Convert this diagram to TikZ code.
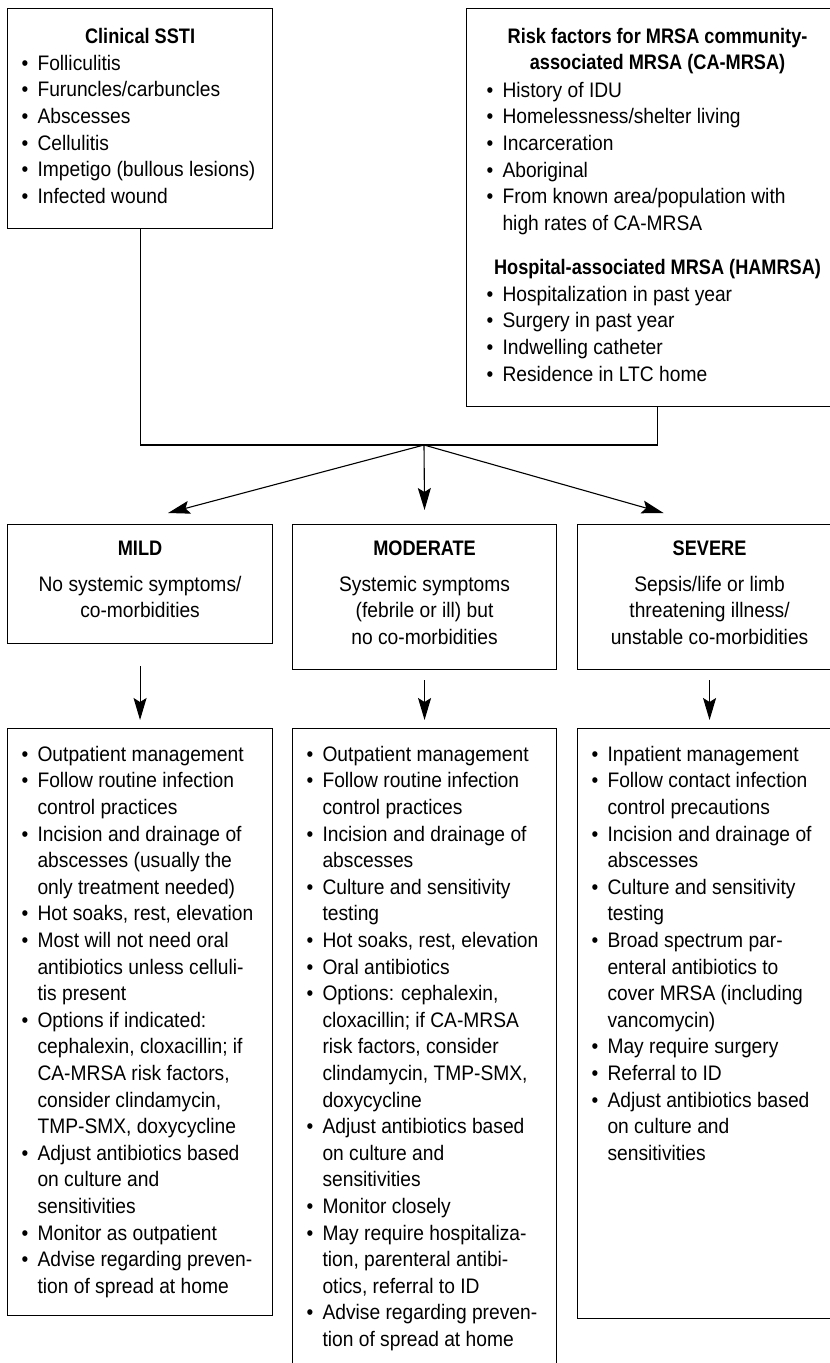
\documentclass[tikz,border=0pt]{standalone}
\usepackage{fontspec}
\setmainfont{Liberation Sans}[UprightFeatures={FakeStretch=0.915},BoldFeatures={FakeStretch=0.865}]
\usetikzlibrary{arrows.meta}
\newcommand{\bitem}{\makebox[16pt][l]{\textbullet}}
\newcommand{\bcont}{\hspace*{16pt}}

\begin{document}
\begin{tikzpicture}[x=1pt,y=-1pt,line width=1.1pt,
  font=\fontsize{21}{26.6}\selectfont,
  frame/.style={draw,rectangle,inner sep=0pt,anchor=north west},
  txt/.style={inner sep=0pt,anchor=north west,align=left},
  ttl/.style={inner sep=0pt,anchor=north,align=center,font=\fontsize{21}{26.6}\selectfont\bfseries},
  sub/.style={inner sep=0pt,anchor=north,align=center},
  tip/.style={-{Stealth[length=22pt,width=13pt,inset=4pt]}}]
\useasboundingbox (0,0) rectangle (830,1363);
\clip (0,0) rectangle (830,1363);

% top row
\node[frame,minimum width=265pt,minimum height=220pt] (ssti) at (7,8) {};
\node[ttl] (sstititle) at ([shift={(0,19.5)}]ssti.north) {Clinical SSTI};
\node[txt] (sstilist) at ([shift={(14,46.5)}]ssti.north west) {%
\bitem Folliculitis\\
\bitem Furuncles/carbuncles\\
\bitem Abscesses\\
\bitem Cellulitis\\
\bitem Impetigo (bullous lesions)\\
\bitem Infected wound};

\node[frame,minimum width=382pt,minimum height=398pt] (risk) at (466,8) {};
\node[ttl] (risktitle) at ([shift={(0,19.5)}]risk.north) {Risk factors for MRSA community-\\associated MRSA (CA-MRSA)};
\node[txt] (camrsa) at ([shift={(20,73.5)}]risk.north west) {%
\bitem History of IDU\\
\bitem Homelessness/shelter living\\
\bitem Incarceration\\
\bitem Aboriginal\\
\bitem From known area/population with\\
\bcont high rates of CA-MRSA};
\node[ttl] (hatitle) at ([shift={(0,250.5)}]risk.north) {Hospital-associated MRSA (HAMRSA)};
\node[txt] (hamrsa) at ([shift={(20,277.5)}]risk.north west) {%
\bitem Hospitalization in past year\\
\bitem Surgery in past year\\
\bitem Indwelling catheter\\
\bitem Residence in LTC home};

\coordinate (hub) at (424,445);
\draw (ssti.south) |- (hub) -| (risk.south);

% severity
\node[frame,minimum width=265pt,minimum height=119pt] (mild) at (7,524) {};
\node[ttl] (mildtitle) at ([shift={(0,16.5)}]mild.north) {MILD};
\node[sub] (mildtext) at ([shift={(0,51.5)}]mild.north) {No systemic symptoms/\\co-morbidities};

\node[frame,minimum width=264pt,minimum height=145pt] (moderate) at (292,524) {};
\node[ttl] (modtitle) at ([shift={(0,16.5)}]moderate.north) {MODERATE};
\node[sub] (modtext) at ([shift={(0,51.5)}]moderate.north) {Systemic symptoms\\(febrile or ill) but\\no co-morbidities};

\node[frame,minimum width=264pt,minimum height=145pt] (severe) at (577,524) {};
\node[ttl] (sevtitle) at ([shift={(0,16.5)}]severe.north) {SEVERE};
\node[sub] (sevtext) at ([shift={(0,51.5)}]severe.north) {Sepsis/life or limb\\threatening illness/\\unstable co-morbidities};

\draw[tip] (hub) -- ([shift={(28,-11)}]mild.north);
\draw[tip] (hub) -- ([shift={(0,-14)}]moderate.north);
\draw[tip] (hub) -- ([shift={(-46,-11)}]severe.north);

% management
\node[frame,minimum width=265pt,minimum height=587pt] (mildplan) at (7,728) {};
\node[txt] (mildlist) at ([shift={(14,17.5)}]mildplan.north west) {%
\bitem Outpatient management\\
\bitem Follow routine infection\\
\bcont control practices\\
\bitem Incision and drainage of\\
\bcont abscesses (usually the\\
\bcont only treatment needed)\\
\bitem Hot soaks, rest, elevation\\
\bitem Most will not need oral\\
\bcont antibiotics unless celluli-\\
\bcont tis present\\
\bitem Options if indicated:\\
\bcont cephalexin, cloxacillin; if\\
\bcont CA-MRSA risk factors,\\
\bcont consider clindamycin,\\
\bcont TMP-SMX, doxycycline\\
\bitem Adjust antibiotics based\\
\bcont on culture and\\
\bcont sensitivities\\
\bitem Monitor as outpatient\\
\bitem Advise regarding preven-\\
\bcont tion of spread at home};

\node[frame,minimum width=264pt,minimum height=700pt] (modplan) at (292,728) {};
\node[txt] (modlist) at ([shift={(14,17.5)}]modplan.north west) {%
\bitem Outpatient management\\
\bitem Follow routine infection\\
\bcont control practices\\
\bitem Incision and drainage of\\
\bcont abscesses\\
\bitem Culture and sensitivity\\
\bcont testing\\
\bitem Hot soaks, rest, elevation\\
\bitem Oral antibiotics\\
\bitem Options: cephalexin,\\
\bcont cloxacillin; if CA-MRSA\\
\bcont risk factors, consider\\
\bcont clindamycin, TMP-SMX,\\
\bcont doxycycline\\
\bitem Adjust antibiotics based\\
\bcont on culture and\\
\bcont sensitivities\\
\bitem Monitor closely\\
\bitem May require hospitaliza-\\
\bcont tion, parenteral antibi-\\
\bcont otics, referral to ID\\
\bitem Advise regarding preven-\\
\bcont tion of spread at home};

\node[frame,minimum width=264pt,minimum height=590pt] (sevplan) at (577,728) {};
\node[txt] (sevlist) at ([shift={(14,17.5)}]sevplan.north west) {%
\bitem Inpatient management\\
\bitem Follow contact infection\\
\bcont control precautions\\
\bitem Incision and drainage of\\
\bcont abscesses\\
\bitem Culture and sensitivity\\
\bcont testing\\
\bitem Broad spectrum par-\\
\bcont enteral antibiotics to\\
\bcont cover MRSA (including\\
\bcont vancomycin)\\
\bitem May require surgery\\
\bitem Referral to ID\\
\bitem Adjust antibiotics based\\
\bcont on culture and\\
\bcont sensitivities};

\draw[tip] ([shift={(0,22)}]mild.south) -- ([shift={(0,-8)}]mildplan.north);
\draw[tip] ([shift={(0,10)}]moderate.south) -- ([shift={(0,-8)}]modplan.north);
\draw[tip] ([shift={(0,10)}]severe.south) -- ([shift={(0,-8)}]sevplan.north);
\end{tikzpicture}
\end{document}
